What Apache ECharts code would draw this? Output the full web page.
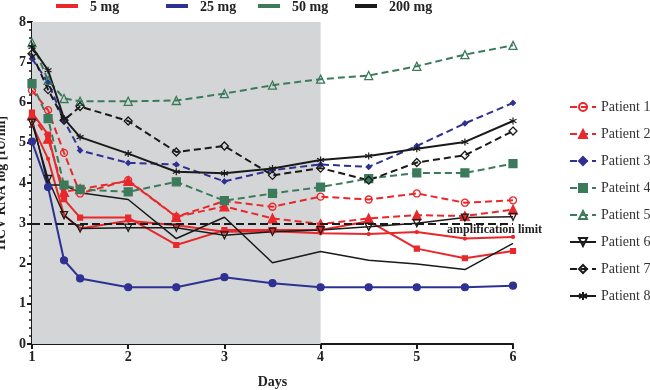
<!DOCTYPE html>
<html><head><meta charset="utf-8">
<script src="https://cdn.jsdelivr.net/npm/echarts@6/dist/echarts.min.js"></script>
<style>html,body{margin:0;padding:0;background:#fff}#c{width:650px;height:390px}</style>
</head><body><div id="c"></div>
<script>
// time points (days)
const days = [1, 1.167, 1.333, 1.5, 2, 2.5, 3, 3.5, 4, 4.5, 5, 5.5, 6];
// labelled patients
const patient1 = [6.3, 5.81, 4.75, 3.74, 4.07, 3.16, 3.55, 3.41, 3.66, 3.59, 3.74, 3.51, 3.57];
const patient2 = [5.68, 5.1, 3.78, 3.85, 4.05, 3.16, 3.42, 3.12, 2.98, 3.12, 3.2, 3.18, 3.34];
const patient3 = [7.09, 6.5, 5.55, 4.81, 4.5, 4.46, 4.04, 4.32, 4.46, 4.4, 4.92, 5.48, 5.99];
const patient4 = [6.47, 5.6, 3.95, 3.84, 3.78, 4.03, 3.56, 3.74, 3.9, 4.11, 4.25, 4.25, 4.48];
const patient5 = [7.49, 6.55, 6.1, 6.03, 6.03, 6.05, 6.22, 6.43, 6.58, 6.67, 6.9, 7.19, 7.42];
const patient6 = [5.5, 4.1, 3.2, 2.87, 2.89, 2.89, 2.7, 2.79, 2.83, 2.91, 3.0, 3.14, 3.16];
const patient7 = [7.21, 6.32, 5.56, 5.9, 5.54, 4.77, 4.92, 4.19, 4.37, 4.07, 4.51, 4.69, 5.29];
const patient8 = [7.38, 6.8, 5.6, 5.14, 4.73, 4.28, 4.24, 4.36, 4.57, 4.67, 4.85, 5.02, 5.54];
// unlabelled solid lines
const red5mgA = [5.45, 4.6, 3.2, 2.87, 3.06, 2.95, 2.79, 2.8, 2.75, 2.73, 2.78, 2.62, 2.66];
const red5mgB = [5.75, 5.2, 3.6, 3.14, 3.14, 2.46, 2.83, 2.83, 2.83, 3.05, 2.37, 2.13, 2.31];
const blue25mg = [5.03, 3.9, 2.08, 1.63, 1.41, 1.41, 1.66, 1.51, 1.41, 1.41, 1.41, 1.41, 1.45];
const black200mg = [5.6, 3.95, 3.95, 3.76, 3.59, 2.62, 3.15, 2.02, 2.3, 2.08, 1.99, 1.85, 2.5];
// dose groups / labels
const doseLabels = ['5 mg', '25 mg', '50 mg', '200 mg'];
const patientNames = ['Patient 1', 'Patient 2', 'Patient 3', 'Pateint 4', 'Patient 5', 'Patient 6', 'Patient 7', 'Patient 8'];
const yTicks = [0, 1, 2, 3, 4, 5, 6, 7, 8];
const amplificationLimit = 3;
const monoStart = 1, monoEnd = 4;

const RED = '#e8282b', BLUE = '#2e3192', GREEN = '#3b7b5b', BLACK = '#1a1a1a';
const SERIF = '"Liberation Serif","Times New Roman",serif';
const DASH = [7, 4];
const STAR = 'path://M5,0L5,10M0.7,2.5L9.3,7.5M0.7,7.5L9.3,2.5';
const HOLLOW = 'rgba(0,0,0,0)';

function pts(arr) { return days.map((d, i) => [d, arr[i]]); }
function ser(name, arr, color, dashed, symbol, size, extra) {
  return Object.assign({
    name: name, type: 'line', data: pts(arr),
    symbol: symbol, symbolSize: size, showSymbol: symbol !== 'none',
    lineStyle: { color: color, width: 2, type: dashed ? DASH : 'solid' },
    itemStyle: { color: color, borderColor: color, borderWidth: 1.2 },
    emphasis: { disabled: true }, animation: false
  }, extra || {});
}
function hollow(color) { return { itemStyle: { color: HOLLOW, borderColor: color, borderWidth: 1.3 } }; }

const series = [
  {
    type: 'line', data: [], silent: true, animation: false,
    markArea: { silent: true, itemStyle: { color: '#d4d5d7' },
      data: [[{ xAxis: monoStart, yAxis: 0 }, { xAxis: monoEnd, yAxis: 8 }]] },
    markLine: { silent: true, symbol: 'none', animation: false,
      lineStyle: { color: BLACK, width: 2, type: [8, 4] }, label: { show: false },
      data: [[{ coord: [1, amplificationLimit] }, { coord: [6, amplificationLimit] }]] }
  },
  ser('blue25', blue25mg, BLUE, false, 'circle', 7),
  ser('redA', red5mgA, RED, false, 'circle', 3),
  ser('redB', red5mgB, RED, false, 'rect', 5),
  ser('black200', black200mg, BLACK, false, 'none', 0, { lineStyle: { color: BLACK, width: 1.5 } }),
  ser(patientNames[0], patient1, RED, true, 'circle', 7, hollow(RED)),
  ser(patientNames[1], patient2, RED, true, 'triangle', 9),
  ser(patientNames[2], patient3, BLUE, true, 'diamond', 5),
  ser(patientNames[3], patient4, GREEN, true, 'rect', 8),
  ser(patientNames[4], patient5, GREEN, true, 'triangle', 8, hollow(GREEN)),
  ser(patientNames[5], patient6, BLACK, false, 'triangle', 7, Object.assign({ symbolRotate: 180, lineStyle: { color: BLACK, width: 1.5 } }, hollow(BLACK))),
  ser(patientNames[6], patient7, BLACK, true, 'diamond', 8, hollow(BLACK)),
  ser(patientNames[7], patient8, BLACK, false, STAR, 7, { itemStyle: { color: HOLLOW, borderColor: BLACK, borderWidth: 1.2 } })
];

const legendColors = [RED, BLUE, GREEN, BLACK];
const legendX = [56, 166, 258, 355];
const graphic = [];
doseLabels.forEach((t, i) => {
  graphic.push({ type: 'line', shape: { x1: legendX[i], y1: 6, x2: legendX[i] + 22, y2: 6 }, style: { stroke: legendColors[i], lineWidth: 4 } });
  graphic.push({ type: 'text', x: legendX[i] + 34, y: 7, style: { text: t, font: 'bold 14px ' + SERIF, fill: '#222', textVerticalAlign: 'middle' } });
});
graphic.push({ type: 'text', x: 176, y: 325, style: { text: '3-Day monotherapy', font: 'bold 14px ' + SERIF, fill: '#333', textAlign: 'center', textVerticalAlign: 'middle' } });
graphic.push({ type: 'text', x: 542, y: 230, style: { text: 'amplification limit', font: 'bold 12px ' + SERIF, fill: '#222', textAlign: 'right', textVerticalAlign: 'middle' } });

const chart = echarts.init(document.getElementById('c'), null, { renderer: 'canvas' });
chart.setOption({
  animation: false,
  backgroundColor: '#fff',
  grid: { left: 32, right: 137, top: 22, bottom: 46, containLabel: false, outerBoundsMode: 'none' },
  xAxis: {
    type: 'value', min: 1, max: 6, interval: 1,
    name: 'Days', nameLocation: 'middle', nameGap: 31,
    nameTextStyle: { fontFamily: SERIF, fontWeight: 'bold', fontSize: 14, color: '#222' },
    axisLine: { lineStyle: { color: BLACK, width: 2 } },
    axisTick: { lineStyle: { color: BLACK, width: 2 }, length: 5 },
    axisLabel: { fontFamily: SERIF, fontWeight: 'bold', fontSize: 14, color: '#222', margin: 6 },
    splitLine: { show: false }
  },
  yAxis: {
    type: 'value', min: yTicks[0], max: yTicks[yTicks.length - 1], interval: 1,
    name: 'HCV RNA log [IU/ml]', nameLocation: 'middle', nameGap: 24, nameRotate: 90, nameMoveOverlap: false,
    nameTextStyle: { fontFamily: SERIF, fontWeight: 'bold', fontSize: 14, color: '#222' },
    axisLine: { show: true, lineStyle: { color: BLACK, width: 2 } },
    axisTick: { show: true, lineStyle: { color: BLACK, width: 2 }, length: 5 },
    minorTick: { show: true, splitNumber: 5, length: 3, lineStyle: { color: BLACK, width: 1.5 } },
    axisLabel: { fontFamily: SERIF, fontWeight: 'bold', fontSize: 14, color: '#222', margin: 6 },
    splitLine: { show: false }
  },
  legend: {
    orient: 'vertical', left: 564, top: 95, itemGap: 13, itemWidth: 26, itemHeight: 10,
    data: patientNames,
    textStyle: { fontFamily: SERIF, fontSize: 14, color: '#333' },
    selectedMode: false
  },
  graphic: graphic,
  series: series
});
</script>
</body></html>
